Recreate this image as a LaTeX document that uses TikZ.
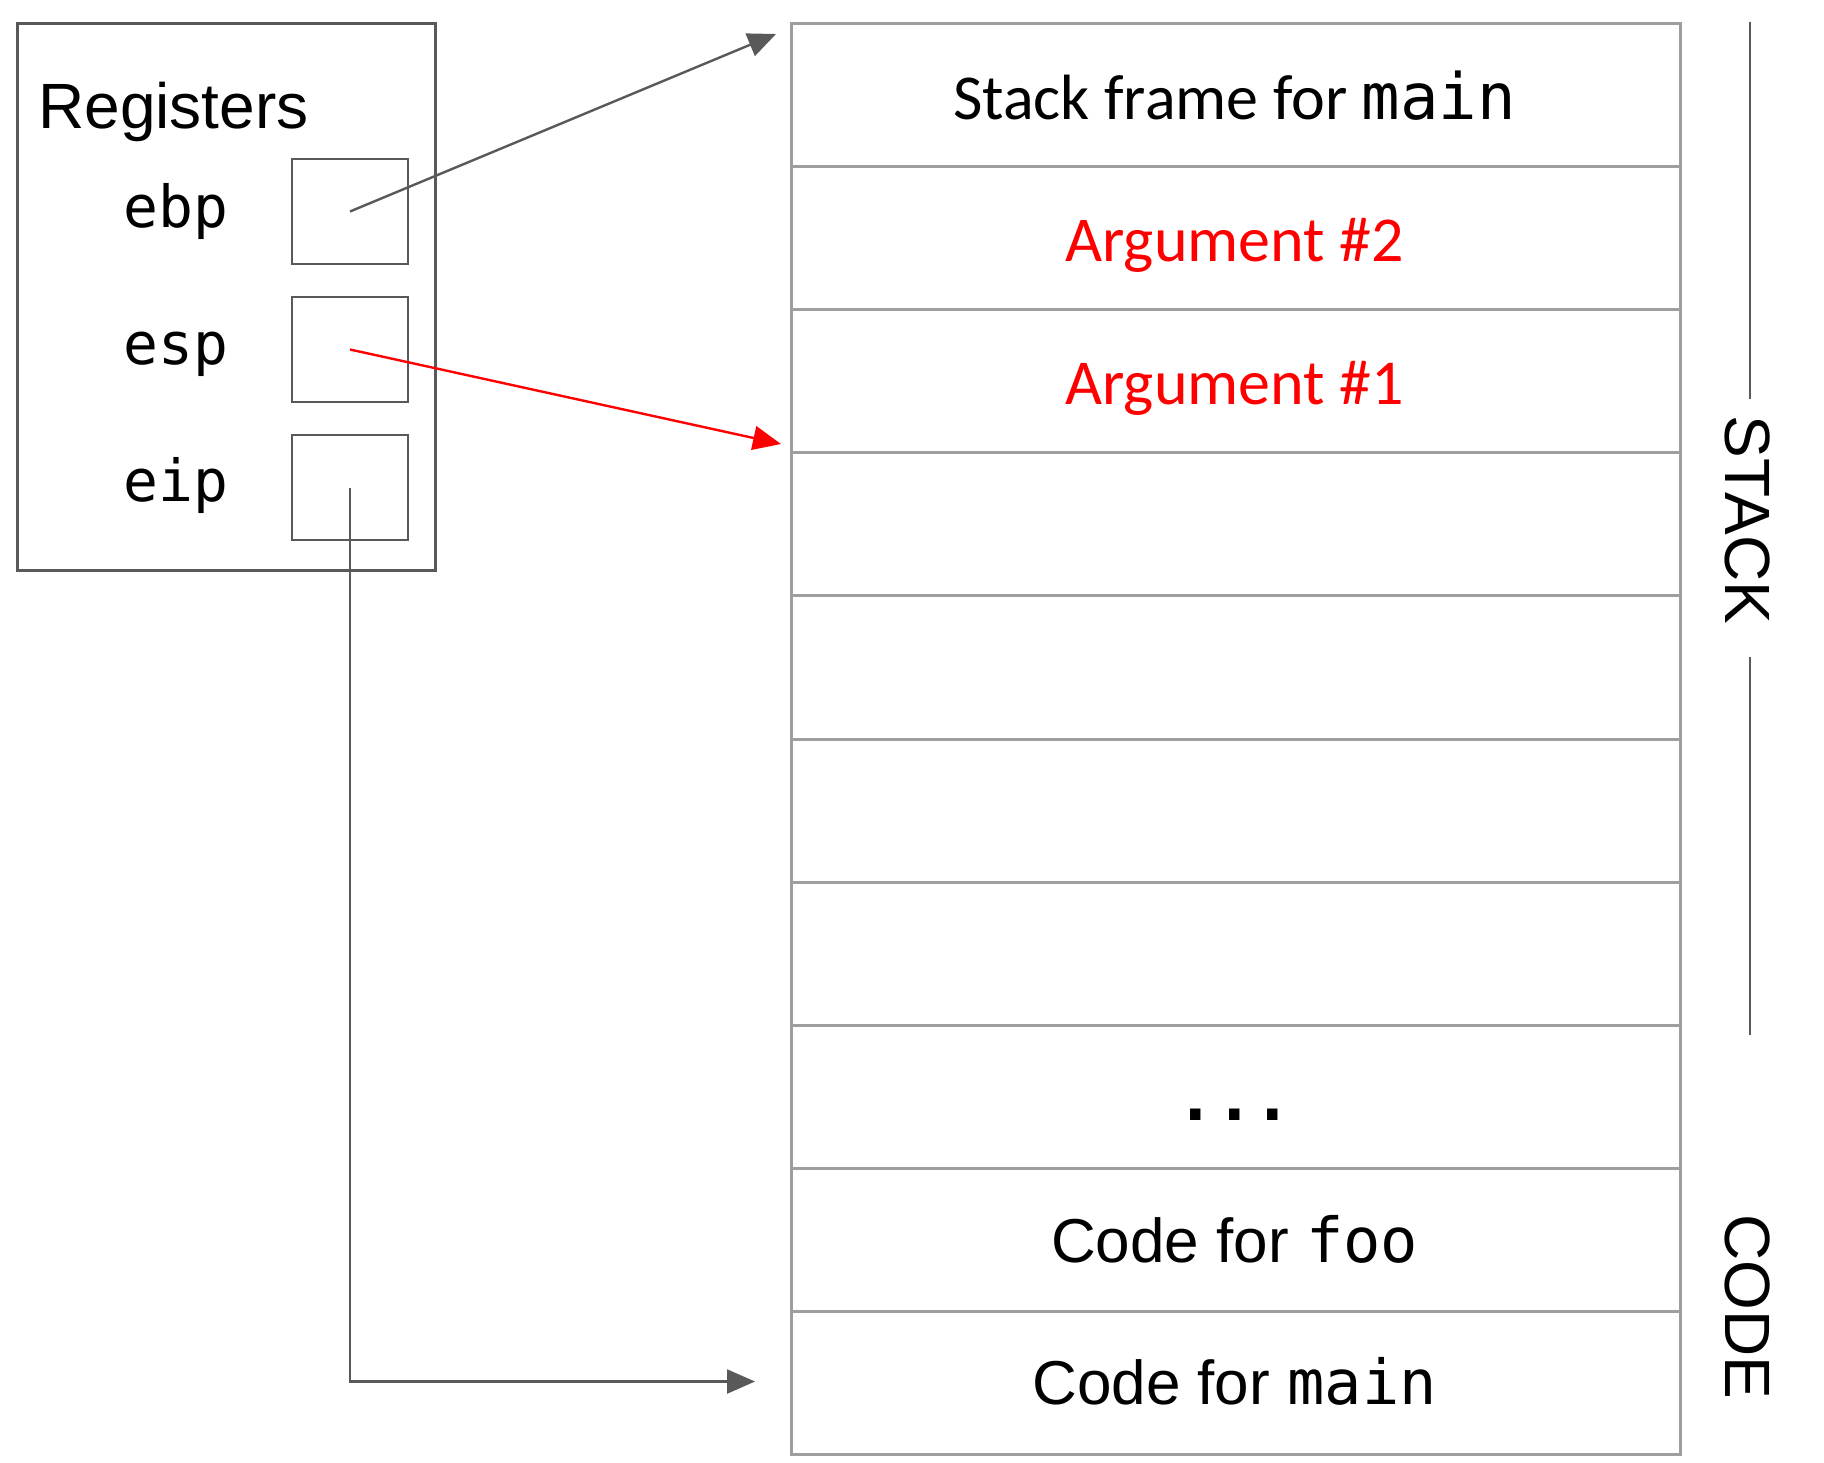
\documentclass[tikz,border=0pt]{standalone}
\usepackage{fontspec}
\setmainfont{Liberation Sans}
\newfontfamily\calib{Carlito}
\newfontfamily\monof{DejaVu Sans Mono}
\usetikzlibrary{arrows.meta}
\definecolor{dgray}{HTML}{595959}
\definecolor{lgray}{HTML}{9E9E9E}
\definecolor{argred}{HTML}{FF0000}
\tikzset{
  rowbox/.style={draw=lgray, line width=1.5pt, anchor=north west, minimum width=444.5pt, minimum height=71.55pt, inner sep=0pt},
  regbox/.style={draw=dgray, line width=1.3pt, minimum width=58pt, minimum height=52.5pt, inner sep=0pt},
  outerbox/.style={draw=dgray, line width=1.3pt, anchor=north west, minimum width=209pt, minimum height=273.5pt, inner sep=0pt},
  conn/.style={draw=dgray, line width=1.2pt, -{Triangle[length=14pt,width=12pt]}},
  redconn/.style={draw=argred, line width=1.2pt, -{Triangle[length=14pt,width=12pt]}},
  reglabel/.style={anchor=base, font=\monof\fontsize{29}{34}\selectfont},
  rowtext/.style={anchor=base, font=\calib\fontsize{32}{38}\selectfont},
  codetext/.style={anchor=base, font=\fontsize{31}{38}\selectfont},
  sidetext/.style={rotate=-90, font=\fontsize{32}{38}\selectfont, inner sep=0pt},
  sideline/.style={draw=dgray, line width=1.2pt}
}
\begin{document}
\begin{tikzpicture}[x=0.5pt,y=-0.5pt]
\useasboundingbox (0,0) rectangle (1824,1462);
% stack rows
\foreach \i in {0,...,9} {
  \node[rowbox] (row\i) at (790,{22+143.1*\i}) {};
}
\node[rowtext] (t0) at (1234.5,119) {Stack frame for {\monof main}};
\node[rowtext, text=argred] (t1) at (1234.5,261) {Argument \#2};
\node[rowtext, text=argred] (t2) at (1234.5,404) {Argument \#1};
\node[anchor=base, font=\monof\bfseries\fontsize{32}{38}\selectfont] (t7) at (1234.5,1120) {...};
\node[codetext] (t8) at (1234.5,1262) {Code for {\monof foo}};
\node[codetext] (t9) at (1234.5,1404) {Code for {\monof main}};
% registers
\node[outerbox] (reg) at (16,22) {};
\node[anchor=base west, font=\fontsize{32}{38}\selectfont, inner sep=0pt] (regtitle) at (38,128) {Registers};
\node[regbox] (ebpbox) at (350,211.5) {};
\node[regbox] (espbox) at (350,349.5) {};
\node[regbox] (eipbox) at (350,487.5) {};
\node[reglabel] (ebplab) at (176,227) {ebp};
\node[reglabel] (esplab) at (176,364) {esp};
\node[reglabel] (eiplab) at (176,501) {eip};
% connectors
\coordinate (ebptip) at (776,34);
\coordinate (esptip) at (781,444);
\coordinate (eiptip) at (755,1381.5);
\draw[conn] (ebpbox.center) -- (ebptip);
\draw[redconn] (espbox.center) -- (esptip);
\draw[conn] (eipbox.center) |- (eiptip);
% side labels
\coordinate (s1a) at (1750,22);
\coordinate (s1b) at (1750,399);
\coordinate (s2a) at (1750,657);
\coordinate (s2b) at (1750,1035);
\draw[sideline] (s1a) -- (s1b);
\draw[sideline] (s2a) -- (s2b);
\node[sidetext] (stack) at (1748,520) {STACK};
\node[sidetext] (code) at (1748,1307) {CODE};
\end{tikzpicture}
\end{document}
